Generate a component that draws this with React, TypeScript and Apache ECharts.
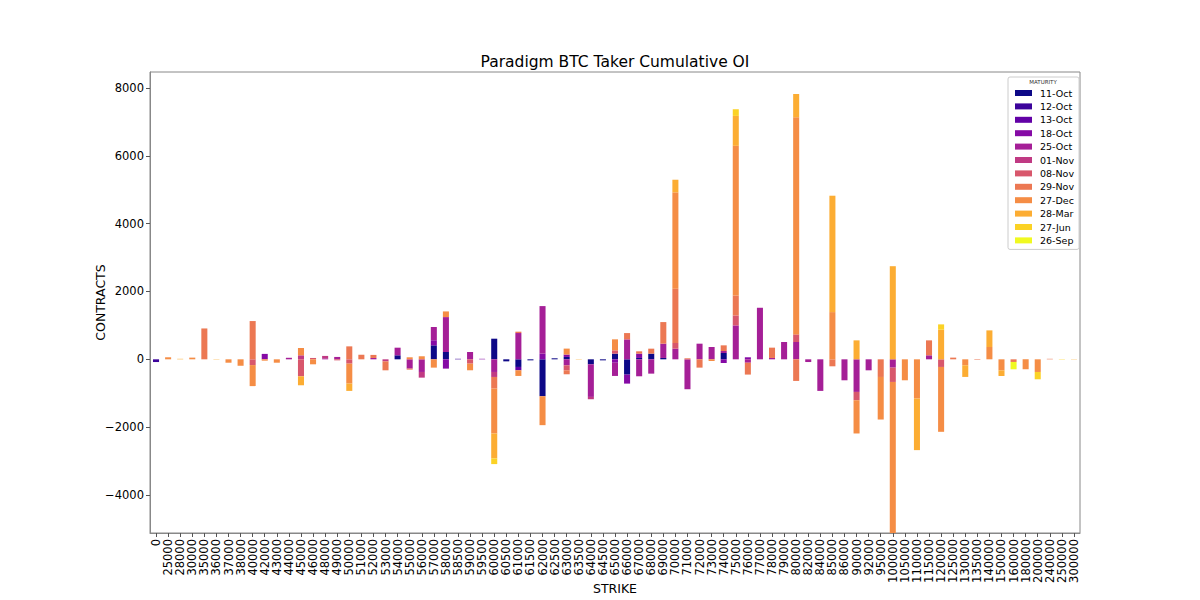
import React, { useEffect, useRef } from 'react';
import * as echarts from 'echarts';

const strikes = [
  '0', '25000', '28000', '30000', '35000', '36000', '37000', '38000', '40000', '42000',
  '43000', '44000', '45000', '46000', '48000', '49000', '50000', '51000', '52000', '53000',
  '54000', '55000', '56000', '57000', '58000', '58500', '59000', '59500', '60000', '60500',
  '61000', '61500', '62000', '62500', '63000', '63500', '64000', '64500', '65000', '66000',
  '67000', '68000', '69000', '70000', '71000', '72000', '73000', '74000', '75000', '76000',
  '77000', '78000', '79000', '80000', '82000', '84000', '85000', '86000', '90000', '92000',
  '95000', '100000', '105000', '110000', '115000', '120000', '125000', '130000', '135000', '140000',
  '150000', '160000', '180000', '200000', '240000', '250000', '300000',
];

const maturities = ['11-Oct', '12-Oct', '13-Oct', '18-Oct', '25-Oct', '01-Nov', '08-Nov', '29-Nov', '27-Dec', '28-Mar', '27-Jun', '26-Sep'];

const plasma = ['#0d0887', '#3c049b', '#6201a6', '#850aa5', '#a51f97', '#c03a83', '#d8576c', '#ec7853', '#f58d45', '#fcad33', '#fbd225', '#f0f921'];

type Pair = [string, number];

const oct11: Pair[] = [['54000', 118], ['57000', 412], ['58000', 216], ['60000', 608], ['60500', -60], ['61000', -225], ['61500', -30], ['62000', -1088], ['62500', 30], ['63000', 70], ['64000', -147], ['64500', -30], ['65000', 167], ['66000', -451], ['67000', 40], ['68000', 167], ['69000', 40], ['74000', 186]];
const oct12: Pair[] = [['0', -80], ['58500', 15]];
const oct13: Pair[] = [['61000', -98]];
const oct18: Pair[] = [['42000', 160], ['57000', 150], ['58000', -274], ['59500', 15], ['62000', 167], ['63000', 70], ['65000', -100], ['66000', -265], ['67000', 127], ['74000', -108], ['76000', 60]];
const oct25: Pair[] = [['44000', 45], ['48000', 30], ['49000', 70], ['52000', 40], ['54000', 225], ['55000', -274], ['56000', -373], ['57000', 390], ['58000', 1029], ['59000', 216], ['60000', -373], ['61000', 775], ['62000', 1402], ['63000', -176], ['64000', -961], ['65000', -390], ['66000', 588], ['67000', -500], ['68000', -422], ['69000', 422], ['70000', 314], ['71000', -882], ['72000', 461], ['73000', 363], ['74000', 60], ['75000', 1000], ['76000', -100], ['77000', 1520], ['78000', 40], ['79000', 510], ['80000', 510], ['82000', -80], ['84000', -931], ['86000', -618], ['90000', -961], ['92000', -324], ['100000', -245], ['115000', 118]];
const nov01: Pair[] = [['45000', 118], ['48000', 70], ['53000', -60], ['56000', -167], ['60000', -147], ['64000', -69]];
const nov08: Pair[] = [['40000', -170], ['45000', -500], ['46000', 40], ['49000', -30], ['50000', -127], ['59000', -127], ['63000', -147], ['65000', 98], ['70000', 167], ['75000', 294], ['80000', 225], ['90000', -245], ['100000', -422], ['120000', -225]];
const nov29: Pair[] = [['35000', 910], ['40000', 1128], ['50000', 382], ['51000', 135], ['52000', 90], ['53000', -264], ['55000', -30], ['60000', -343], ['61000', 40], ['63000', -118], ['66000', 186], ['67000', 69], ['68000', 147], ['69000', 636], ['70000', 1598], ['71000', 30], ['72000', -245], ['74000', 166], ['75000', 588], ['76000', -350], ['78000', 304], ['80000', -637], ['85000', -206], ['95000', -520], ['115000', 441], ['125000', 50], ['135000', -15], ['160000', -78], ['240000', 15]];
const dec27: Pair[] = [['25000', 60], ['30000', 50], ['37000', -100], ['38000', -190], ['40000', -620], ['42000', -40], ['43000', -100], ['45000', 216], ['46000', -147], ['50000', -588], ['55000', 60], ['56000', 90], ['57000', -245], ['58000', 167], ['59000', -196], ['60000', -1324], ['61000', -167], ['62000', -853], ['63000', 176], ['65000', 324], ['70000', 2843], ['73000', -50], ['75000', 4412], ['80000', 6400], ['85000', 1392], ['90000', -980], ['95000', -1255], ['100000', -4533], ['105000', -618], ['110000', -1157], ['120000', -1912], ['130000', -176], ['140000', 363], ['150000', -324], ['180000', -290], ['200000', -373]];
const mar28: Pair[] = [['28000', 15], ['36000', 10], ['45000', -265], ['50000', -216], ['60000', -735], ['63500', 10], ['70000', 372], ['75000', 882], ['80000', 686], ['85000', 3431], ['90000', 559], ['100000', 2745], ['110000', -1520], ['120000', 873], ['130000', -343], ['140000', 490], ['150000', -167], ['300000', 8]];
const jun27: Pair[] = [['60000', -167], ['75000', 196], ['120000', 157], ['200000', -216], ['250000', 10]];
const sep26: Pair[] = [['160000', -216]];

const seriesPairs: Pair[][] = [oct11, oct12, oct13, oct18, oct25, nov01, nov08, nov29, dec27, mar28, jun27, sep26];

const yTicks = [-4000, -2000, 0, 2000, 4000, 6000, 8000];

const FONT = '"DejaVu Sans", "Liberation Sans", sans-serif';

function build(pairs: Pair[]): number[] {
  return strikes.map((s) => {
    const f = pairs.find((p) => p[0] === s);
    return f ? f[1] : 0;
  });
}

export default function App() {
  const ref = useRef<HTMLDivElement>(null);

  useEffect(() => {
    if (!ref.current) return;
    const chart = echarts.init(ref.current, undefined, { renderer: 'svg' });
    const series = maturities.map((m, k) => ({
      name: m,
      type: 'bar' as const,
      stack: 'oi',
      barWidth: '50%',
      clip: true,
      data: build(seriesPairs[k]),
      itemStyle: { color: plasma[k] },
      emphasis: { disabled: true },
    }));
    chart.setOption({
      animation: false,
      backgroundColor: '#ffffff',
      textStyle: { fontFamily: FONT },
      grid: {
        left: 150, top: 72, width: 930, height: 461,
        show: true, borderColor: '#888', borderWidth: 1, backgroundColor: 'transparent',
        containLabel: false,
        outerBoundsMode: 'none',
      },
      graphic: [
        {
          type: 'text', x: 615, y: 62,
          style: {
            text: 'Paradigm BTC Taker Cumulative OI', fill: '#000',
            font: `15.5px ${FONT}`, textAlign: 'center', textVerticalAlign: 'middle',
            align: 'center', verticalAlign: 'middle',
          },
        },
        {
          type: 'text', x: 1043, y: 82, z: 100,
          style: {
            text: 'MATURITY', fill: '#333',
            font: `5.5px ${FONT}`, textAlign: 'center', textVerticalAlign: 'middle',
            align: 'center', verticalAlign: 'middle',
          },
        },
      ],
      legend: {
        orient: 'vertical', left: 1008, top: 77,
        padding: [10, 5, 3, 7],
        itemWidth: 17, itemHeight: 6, itemGap: 1.4, icon: 'rect',
        textStyle: { fontSize: 9.5, lineHeight: 12, color: '#000', fontFamily: FONT, padding: [0, 0, 0, 3] },
        borderColor: '#ccc', borderWidth: 1, borderRadius: 2,
        backgroundColor: 'rgba(255,255,255,0.85)',
        data: maturities,
        selectedMode: false,
      },
      xAxis: {
        type: 'category', data: strikes,
        axisLine: { show: true, onZero: false, lineStyle: { color: '#888', width: 1 } },
        axisTick: { show: true, alignWithLabel: true, length: 4, lineStyle: { color: '#555' } },
        axisLabel: { rotate: 90, interval: 0, fontSize: 11.5, color: '#000', fontFamily: FONT, margin: 6 },
        name: 'STRIKE', nameLocation: 'middle', nameGap: 49, nameMoveOverlap: false,
        nameTextStyle: { fontSize: 12.5, color: '#000', fontFamily: FONT },
      },
      yAxis: {
        type: 'value', min: -5120, max: 8470,
        axisLine: { show: true, lineStyle: { color: '#888', width: 1 } },
        axisTick: { show: true, length: 4, customValues: yTicks, lineStyle: { color: '#555' } },
        axisLabel: {
          customValues: yTicks, fontSize: 11.5, color: '#000', fontFamily: FONT, margin: 6,
          formatter: (v: number) => String(v).replace('-', '\u2212'),
        },
        splitLine: { show: false },
        name: 'CONTRACTS', nameLocation: 'middle', nameGap: 43, nameRotate: 90, nameMoveOverlap: false,
        nameTextStyle: { fontSize: 12.5, color: '#000', fontFamily: FONT },
      },
      series,
    });
    return () => chart.dispose();
  }, []);

  return <div ref={ref} style={{ position: 'fixed', left: 0, top: 0, width: 1200, height: 600 }} />;
}
